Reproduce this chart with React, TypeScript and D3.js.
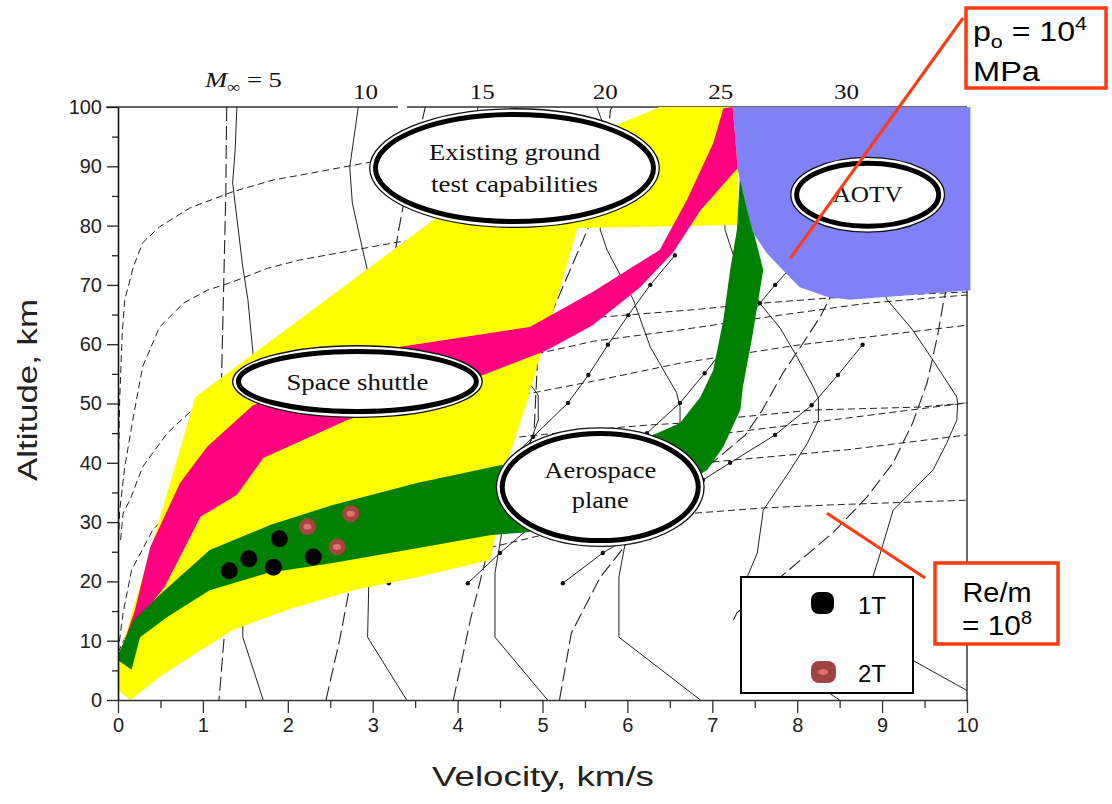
import React, { useRef, useEffect } from 'react'
import * as d3 from 'd3'

type Pt = [number, number]

// axes
const velocityTicks = [0, 1, 2, 3, 4, 5, 6, 7, 8, 9, 10]
const velocityMinor = [0.5, 1.5, 2.5, 3.5, 4.5, 5.5, 6.5, 7.5, 8.5, 9.5]
const altitudeTicks = [0, 10, 20, 30, 40, 50, 60, 70, 80, 90, 100]
const altitudeMinor = [5, 15, 25, 35, 45, 55, 65, 75, 85, 95]
const machTopLabels = ['10', '15', '20', '25', '30']
const machTopVelocity = [2.915, 4.29, 5.74, 7.1, 8.58]

// flight regions [velocity km/s, altitude km]
const groundTestRegion: Pt[] = [
  [0, 1.7], [0.14, 0], [0.49, 3.9], [0.85, 7.3], [1.35, 11.8], [1.99, 15.2], [2.77, 18.5],
  [3.52, 20.7], [4.38, 23.6], [4.46, 28.7], [4.58, 40.0], [4.82, 50.6], [5.41, 79.6],
  [7.3, 80.1], [7.3, 100], [6.38, 100], [5.88, 97.0], [3.71, 80.9], [0.91, 51.1], [0, 6.7]
]
const shuttleUpper: Pt[] = [
  [0.02, 7.6], [0.2, 15.2], [0.38, 25.8], [0.73, 36.6], [1.05, 42.7], [1.59, 49.7], [2.38, 54.0],
  [3.29, 59.5], [4.85, 62.9], [5.59, 68.8], [6.38, 75.9], [6.7, 84.3], [7.01, 93.9], [7.13, 99.8], [7.24, 100]
]
const shuttleLower: Pt[] = [
  [7.3, 89.7], [6.86, 82.6], [6.54, 75.5], [6.15, 69.6], [5.59, 63.2], [5.05, 59.0], [4.3, 54.8],
  [2.7, 47.2], [1.71, 40.8], [1.4, 34.6], [0.97, 30.9], [0.55, 19.1], [0.14, 11.8], [0.05, 6.7]
]
const planeUpper: Pt[] = [
  [0, 7.6], [0.18, 13.5], [0.55, 18.5], [1.08, 25.3], [1.79, 29.5], [2.53, 32.9], [3.52, 36.6],
  [4.5, 39.6], [5.68, 41.3], [6.35, 45.0], [6.62, 46.7], [6.86, 51.1], [7.01, 55.6], [7.13, 64.1],
  [7.21, 72.5], [7.29, 79.3], [7.33, 89.4]
]
const planeLower: Pt[] = [
  [7.41, 88.2], [7.48, 79.3], [7.6, 72.5], [7.47, 61.2], [7.36, 52.8], [7.33, 48.9], [7.13, 42.7],
  [6.94, 38.8], [6.15, 32.0], [4.82, 28.3], [4.38, 27.8], [3.52, 25.6], [2.53, 23.1], [1.76, 21.4],
  [1.08, 18.5], [0.58, 14.0], [0.26, 10.6], [0.16, 5.1], [0, 6.7]
]
const aotvRegion: Pt[] = [
  [7.24, 100], [10.04, 100], [10.04, 69.1], [9.6, 68.6], [8.62, 67.5], [8.35, 68.0], [8.03, 69.6],
  [7.83, 72.5], [7.64, 75.4], [7.48, 78.8], [7.41, 82.6], [7.3, 89.4]
]

// background map: constant Mach number (solid)
const mach5: Pt[] = [[1.4, 100], [1.38, 92.7], [1.35, 87.2], [1.47, 73.0], [1.53, 67.5], [1.59, 58.5], [1.65, 47.0], [1.56, 23.6], [1.47, 14.8], [1.47, 10.6], [1.71, 0]]
const mach10: Pt[] = [[2.83, 100], [2.73, 89.9], [2.76, 83.8], [2.89, 75.4], [2.93, 73.0], [3.3, 47.2], [3.1, 30], [2.96, 23.6], [2.94, 10.6], [3.4, 0]]
const mach15: Pt[] = [[4.24, 100], [4.1, 88], [4.05, 75.9], [4.5, 60], [4.95, 51.4], [4.95, 47.2], [4.88, 44.4], [4.6, 35], [4.44, 21.4], [4.44, 10.6], [5.06, 0]]
const mach20: Pt[] = [[5.64, 100], [5.71, 97.3], [5.7, 85], [5.68, 79.3], [5.76, 75.9], [6.07, 67.5], [6.27, 59.5], [6.58, 51.8], [6.62, 49.4], [6.62, 46.7], [6.54, 44.4], [6.35, 39.6], [6.15, 33.7], [5.97, 26.1], [5.9, 20.7], [5.9, 10.6], [6.86, 0]]
const mach25: Pt[] = [[7.11, 100], [7.15, 79.3], [7.26, 74.5], [7.56, 66.9], [7.8, 62.7], [8.0, 57.8], [8.19, 52.8], [8.25, 50.9], [8.25, 47.2], [8.12, 43.3], [7.92, 38.8], [7.6, 32.0], [7.53, 24.8], [7.41, 20.7], [7.37, 10.6], [8.5, 0]]
const mach30: Pt[] = [[8.55, 100], [8.8, 75], [9.06, 67.5], [9.36, 62.4], [9.6, 57.3], [9.88, 51.1], [9.89, 50.1], [9.88, 47.2], [9.76, 43.3], [9.6, 38.8], [9.13, 32.0], [8.98, 24.8], [8.89, 20.7], [8.86, 10.6], [9.36, 6.7], [10.2, 0]]

// long dashed near-vertical lines
const longDash1: Pt[] = [[1.28, 100], [1.27, 85.5], [1.22, 54.5], [1.22, 40], [1.26, 12.3], [1.19, 0]]
const longDash2: Pt[] = [[2.45, 0], [2.61, 10.1], [2.79, 23.6], [3.0, 50], [3.3, 78.8], [3.35, 82.6], [3.58, 97.5], [3.62, 100]]
const longDash3: Pt[] = [[3.95, 0], [4.15, 13.5], [4.38, 26.5], [4.9, 45], [4.95, 60], [5.7, 85], [5.8, 99.5], [5.82, 100]]
const longDash4: Pt[] = [[5.2, 0], [5.34, 11.3], [5.68, 20.7], [6.0, 26.5], [6.9, 38.8], [7.39, 44.7], [7.59, 48.9], [7.83, 55.1], [8.07, 60.2], [8.27, 64.6], [8.39, 68.0], [8.55, 72]]
const longDash5: Pt[] = [[7.25, 13.5], [7.29, 14.7], [7.8, 20.7], [8.42, 28.2], [8.82, 34.2], [9.13, 40.0], [9.36, 46.7], [9.53, 53.5], [9.65, 61.2], [9.72, 66.9], [9.78, 70.8]]

// dashed Reynolds-number lines
const re1: Pt[] = [[0, 36.6], [0.02, 50.6], [0.05, 61.9], [0.08, 67.5], [0.18, 73.0], [0.29, 77.1], [0.49, 79.8], [0.85, 83.0], [1.35, 85.7], [1.83, 87.7], [2.14, 88.5], [2.93, 90.6], [4.5, 94.4], [7.24, 98.7]]
const re2: Pt[] = [[0, 25], [0.02, 32], [0.08, 39.3], [0.18, 47.7], [0.29, 56.2], [0.49, 62.9], [0.77, 66.9], [1.05, 69.1], [1.35, 70.5], [1.76, 72.8], [2.14, 74.2], [3.29, 77.2], [5.0, 80.5], [7.3, 84]]
const re3: Pt[] = [[0.03, 27], [0.06, 31.5], [0.14, 33.7], [0.29, 39.3], [0.58, 45.0], [0.85, 48.6], [2.5, 57], [4.5, 62], [5.71, 64.6], [6.77, 65.8], [7.56, 66.9], [8.39, 67.8], [10, 68.8]]
const re4: Pt[] = [[0, 8], [0.6, 26], [1.5, 38], [3, 49], [4.5, 57], [5.6, 60.5], [6.62, 62.4], [7.8, 64.9], [8.82, 66.9], [10, 68.3]]
const re5: Pt[] = [[0, 8], [0.06, 14.7], [0.16, 21.9], [0.41, 28.7], [0.58, 31.2], [2, 42], [4, 49], [4.89, 51.8], [5.68, 54.0], [6.62, 56.8], [8.03, 59.9], [8.82, 61.2], [10, 63.2]]
const re6: Pt[] = [[0, 5], [0.5, 17], [1.2, 27], [2.5, 35], [3.8, 41], [4.7, 44.3], [5.5, 45.5], [6.27, 46.4], [6.66, 46.7], [7.24, 47.6], [8.19, 48.9], [9.45, 49.4], [10, 50.1]]
const re7: Pt[] = [[6.9, 44.5], [7.17, 45.0], [8.23, 46.9], [10, 50.1]]
const re8: Pt[] = [[0, 3], [0.3, 10], [1, 20], [2, 27], [3.5, 33], [5.0, 37], [6.89, 40.0], [8.59, 42.2], [10, 44.7]]
const re9: Pt[] = [[0.1, 1], [0.5, 6], [1.5, 14], [3, 21], [5.2, 28.5], [6.78, 31.5], [7.62, 32.4], [8.39, 32.9], [10, 33.7]]

// solid lines with dot markers
const dots1: Pt[] = [[2.41, 19.7], [2.58, 22.4], [3.6, 35], [4.6, 60]]
const dots2: Pt[] = [[3.19, 19.7], [3.52, 25.0], [4.89, 44.4], [5.3, 50.1], [5.54, 54.8], [5.77, 59.9], [6.01, 64.9], [6.27, 70.0], [6.56, 75.0]]
const dots3: Pt[] = [[4.12, 19.7], [4.5, 24.8], [4.82, 28.7], [6.23, 45.0], [6.62, 50.1], [6.91, 55.1], [7.56, 66.9], [7.74, 70.0], [7.92, 72.8]]
const dots4: Pt[] = [[5.24, 19.7], [5.71, 24.8], [5.97, 27.0], [6.89, 37.1], [7.21, 40.0], [7.74, 44.7], [8.17, 49.7], [8.48, 54.8], [8.77, 59.9]]

// test points
const tests1T: Pt[] = [[1.31, 21.8], [1.54, 23.8], [1.83, 22.4], [1.9, 27.2], [2.3, 24.1]]
const tests2T: Pt[] = [[2.23, 29.2], [2.58, 25.8], [2.74, 31.4]]
const legendLabels = ['1T', '2T']

// labelled bubbles: centre and half-size in data units
const bubbleLines = [['Existing ground', 'test capabilities'], ['Space shuttle'], ['Aerospace', 'plane'], ['AOTV']]
const bubbleCentre: Pt[] = [[4.67, 89.7], [2.82, 53.7], [5.68, 35.9], [8.83, 85.2]]
const bubbleHalf: Pt[] = [[1.714, 10.12], [1.478, 6.16], [1.231, 10.12], [0.913, 6.41]]

const SANS = "'Liberation Sans', Arial, sans-serif"
const SERIF = "'Liberation Serif', 'Times New Roman', serif"

function App() {
  const svgRef = useRef<SVGSVGElement>(null)

  useEffect(() => {
    const svg = d3.select(svgRef.current)
    svg.selectAll('*').remove()

    const x = d3.scaleLinear().domain([0, 10]).range([118, 967])
    const y = d3.scaleLinear().domain([0, 100]).range([700, 107])
    const line = d3.line<Pt>().x(d => x(d[0])).y(d => y(d[1]))

    svg.append('defs').append('clipPath').attr('id', 'plotClip')
      .append('rect').attr('x', x(0)).attr('y', y(100)).attr('width', x(10) - x(0)).attr('height', y(0) - y(100))

    // top and right frame
    svg.append('line').attr('x1', 106).attr('x2', 398).attr('y1', y(100)).attr('y2', y(100)).attr('stroke', '#333').attr('stroke-width', 1.3)
    svg.append('line').attr('x1', 407).attr('x2', x(10)).attr('y1', y(100)).attr('y2', y(100)).attr('stroke', '#333').attr('stroke-width', 1.3)
    svg.append('line').attr('x1', x(10)).attr('x2', x(10)).attr('y1', y(100)).attr('y2', y(0)).attr('stroke', '#6a6a6a').attr('stroke-width', 2)

    // background map
    const grid = svg.append('g').attr('clip-path', 'url(#plotClip)').attr('fill', 'none').attr('stroke', '#222')
    grid.selectAll('.re').data([re1, re2, re3, re4, re5, re6, re7, re8, re9]).join('path')
      .attr('class', 're').attr('d', line).attr('stroke-width', 1).attr('stroke-dasharray', '7,4')
    grid.selectAll('.ld').data([longDash1, longDash2, longDash3, longDash4, longDash5]).join('path')
      .attr('class', 'ld').attr('d', line).attr('stroke-width', 1.1).attr('stroke-dasharray', '14,5')
    grid.selectAll('.mach').data([mach5, mach10, mach15, mach20, mach25, mach30]).join('path')
      .attr('class', 'mach').attr('d', line).attr('stroke-width', 1)
    const dotLines = [dots1, dots2, dots3, dots4]
    grid.selectAll('.dl').data(dotLines).join('path')
      .attr('class', 'dl').attr('d', line).attr('stroke-width', 1)
    grid.selectAll('.dot').data(dotLines.flat()).join('circle')
      .attr('class', 'dot').attr('cx', d => x(d[0])).attr('cy', d => y(d[1])).attr('r', 2.2).attr('fill', '#111').attr('stroke', 'none')

    // corridors
    const regions = svg.append('g')
    regions.append('path').attr('d', line(groundTestRegion) + 'Z').attr('fill', '#ffff00')
    regions.append('path').attr('d', line([...shuttleUpper, ...shuttleLower]) + 'Z').attr('fill', '#ff0080')
    regions.append('path').attr('d', line([...planeUpper, ...planeLower]) + 'Z').attr('fill', '#008000')
    regions.append('path').attr('d', line(aotvRegion) + 'Z').attr('fill', '#8080f7')

    // axes
    const axisFont = (g: any) => g.selectAll('text').attr('font-size', 20).attr('font-family', SANS).attr('fill', '#222')
    svg.append('g').attr('transform', `translate(0,${y(0)})`)
      .call(d3.axisBottom(x).tickValues(velocityMinor).tickSize(8).tickSizeOuter(0).tickFormat(() => ''))
      .call((g: any) => g.selectAll('line').attr('stroke', '#333').attr('stroke-width', 1.3))
    svg.append('g').attr('transform', `translate(0,${y(0)})`)
      .call(d3.axisBottom(x).tickValues(velocityTicks).tickSize(13).tickSizeOuter(0).tickPadding(5))
      .call((g: any) => g.select('.domain').attr('stroke', '#333').attr('stroke-width', 1.6))
      .call((g: any) => g.selectAll('line').attr('stroke', '#333').attr('stroke-width', 1.3))
      .call(axisFont)
    svg.append('g').attr('transform', `translate(${x(0)},0)`)
      .call(d3.axisLeft(y).tickValues(altitudeMinor).tickSize(6).tickSizeOuter(0).tickFormat(() => ''))
      .call((g: any) => g.selectAll('line').attr('stroke', '#222').attr('stroke-width', 1.3))
    svg.append('g').attr('transform', `translate(${x(0)},0)`)
      .call(d3.axisLeft(y).tickValues(altitudeTicks).tickSize(11).tickSizeOuter(0).tickPadding(5))
      .call((g: any) => g.select('.domain').attr('stroke', '#111').attr('stroke-width', 1.6))
      .call((g: any) => g.selectAll('line').attr('stroke', '#222').attr('stroke-width', 1.3))
      .call(axisFont)

    svg.append('text').attr('x', 543).attr('y', 786).attr('text-anchor', 'middle')
      .attr('font-family', SANS).attr('font-size', 27).attr('fill', '#222')
      .attr('textLength', 222).attr('lengthAdjust', 'spacingAndGlyphs').text('Velocity, km/s')
    svg.append('text').attr('transform', 'translate(37,390) rotate(-90)').attr('text-anchor', 'middle')
      .attr('font-family', SANS).attr('font-size', 27).attr('fill', '#222')
      .attr('textLength', 182).attr('lengthAdjust', 'spacingAndGlyphs').text('Altitude, km')

    // Mach labels on top
    svg.selectAll('.mlab').data(machTopLabels).join('text').attr('class', 'mlab')
      .attr('x', (_d, i) => x(machTopVelocity[i])).attr('y', 99).attr('text-anchor', 'middle')
      .attr('font-family', SERIF).attr('font-size', 21).attr('fill', '#111')
      .attr('textLength', 25).attr('lengthAdjust', 'spacingAndGlyphs').text(d => d)
    const mt = svg.append('text').attr('x', 205).attr('y', 87).attr('font-family', SERIF).attr('font-size', 22).attr('fill', '#111')
      .attr('textLength', 77).attr('lengthAdjust', 'spacingAndGlyphs')
    mt.append('tspan').attr('font-style', 'italic').text('M')
    mt.append('tspan').attr('font-size', 15).attr('dy', 5).text('∞')
    mt.append('tspan').attr('dy', -5).text(' = 5')

    // test points
    svg.selectAll('.t1').data(tests1T).join('circle').attr('class', 't1')
      .attr('cx', d => x(d[0])).attr('cy', d => y(d[1])).attr('r', 8.5).attr('fill', '#000')
    svg.selectAll('.t2').data(tests2T).join('circle').attr('class', 't2')
      .attr('cx', d => x(d[0])).attr('cy', d => y(d[1])).attr('r', 8.5).attr('fill', '#a4463f')
    svg.selectAll('.t2c').data(tests2T).join('ellipse').attr('class', 't2c')
      .attr('cx', d => x(d[0])).attr('cy', d => y(d[1])).attr('rx', 4).attr('ry', 3).attr('fill', '#e07472')

    // bubbles
    const bubbleWidth = [[171, 167], [142], [112, 57], [70]]
    const bubbleBase = [[-8, 24], [8], [-9, 21], [7]]
    bubbleLines.forEach((lines, i) => {
      const cx = x(bubbleCentre[i][0])
      const cy = y(bubbleCentre[i][1])
      const rx = x(bubbleCentre[i][0] + bubbleHalf[i][0]) - cx
      const ry = cy - y(bubbleCentre[i][1] + bubbleHalf[i][1])
      const b = svg.append('g')
      b.append('ellipse').attr('cx', cx).attr('cy', cy).attr('rx', rx - 0.7).attr('ry', ry - 0.7)
        .attr('fill', '#fff').attr('stroke', '#111').attr('stroke-width', 1.3)
      b.append('ellipse').attr('cx', cx).attr('cy', cy).attr('rx', rx - 6.5).attr('ry', ry - 6.5)
        .attr('fill', '#fff').attr('stroke', '#000').attr('stroke-width', 5)
      lines.forEach((t, j) => {
        b.append('text').attr('x', cx).attr('y', cy + bubbleBase[i][j]).attr('text-anchor', 'middle')
          .attr('font-family', SERIF).attr('font-size', 23).attr('fill', '#111')
          .attr('textLength', bubbleWidth[i][j]).attr('lengthAdjust', 'spacingAndGlyphs').text(t)
      })
    })

    // legend
    const lg = svg.append('g')
    lg.append('rect').attr('x', 741).attr('y', 577).attr('width', 172).attr('height', 116)
      .attr('fill', '#fff').attr('stroke', '#000').attr('stroke-width', 2)
    lg.append('rect').attr('x', 811).attr('y', 592).attr('width', 23).attr('height', 22).attr('rx', 8).attr('fill', '#000')
    lg.append('rect').attr('x', 811).attr('y', 661).attr('width', 25).attr('height', 22).attr('rx', 8).attr('fill', '#9e4540')
    lg.append('ellipse').attr('cx', 823).attr('cy', 672).attr('rx', 5).attr('ry', 3).attr('fill', '#df7070')
    lg.selectAll('.lt').data(legendLabels).join('text').attr('class', 'lt')
      .attr('x', 858).attr('y', (_d, i) => 614 + i * 68).attr('font-family', SANS).attr('font-size', 24).attr('fill', '#000')
      .text(d => d)

    // callouts
    const red = '#ff3a10'
    svg.append('line').attr('x1', x(7.92)).attr('y1', y(74.5)).attr('x2', 963).attr('y2', 18).attr('stroke', red).attr('stroke-width', 3)
    svg.append('rect').attr('x', 966).attr('y', 8).attr('width', 140).attr('height', 80).attr('fill', '#fff').attr('stroke', red).attr('stroke-width', 3.5)
    const p = svg.append('text').attr('x', 973).attr('y', 41).attr('font-family', SANS).attr('font-size', 27).attr('fill', '#000')
      .attr('textLength', 114).attr('lengthAdjust', 'spacingAndGlyphs')
    p.append('tspan').text('p')
    p.append('tspan').attr('font-size', 18).attr('dy', 7).text('o')
    p.append('tspan').attr('dy', -7).text(' = 10')
    p.append('tspan').attr('font-size', 18).attr('dy', -11).text('4')
    svg.append('text').attr('x', 973).attr('y', 81).attr('font-family', SANS).attr('font-size', 27).attr('fill', '#000')
      .attr('textLength', 67).attr('lengthAdjust', 'spacingAndGlyphs').text('MPa')

    svg.append('line').attr('x1', x(8.35)).attr('y1', y(31.5)).attr('x2', 925).attr('y2', 578).attr('stroke', red).attr('stroke-width', 3)
    svg.append('rect').attr('x', 935).attr('y', 563).attr('width', 123).attr('height', 81).attr('fill', '#fff').attr('stroke', red).attr('stroke-width', 3.5)
    svg.append('text').attr('x', 997).attr('y', 602).attr('text-anchor', 'middle').attr('font-family', SANS).attr('font-size', 27).attr('fill', '#000')
      .attr('textLength', 69).attr('lengthAdjust', 'spacingAndGlyphs').text('Re/m')
    const r = svg.append('text').attr('x', 997).attr('y', 635).attr('text-anchor', 'middle').attr('font-family', SANS).attr('font-size', 27).attr('fill', '#000')
      .attr('textLength', 70).attr('lengthAdjust', 'spacingAndGlyphs')
    r.append('tspan').text('= 10')
    r.append('tspan').attr('font-size', 18).attr('dy', -11).text('8')
  }, [])

  return (
    <svg ref={svgRef} width={1112} height={804} style={{ position: 'absolute', left: 0, top: 0, background: '#fff' }} />
  )
}

export default App
